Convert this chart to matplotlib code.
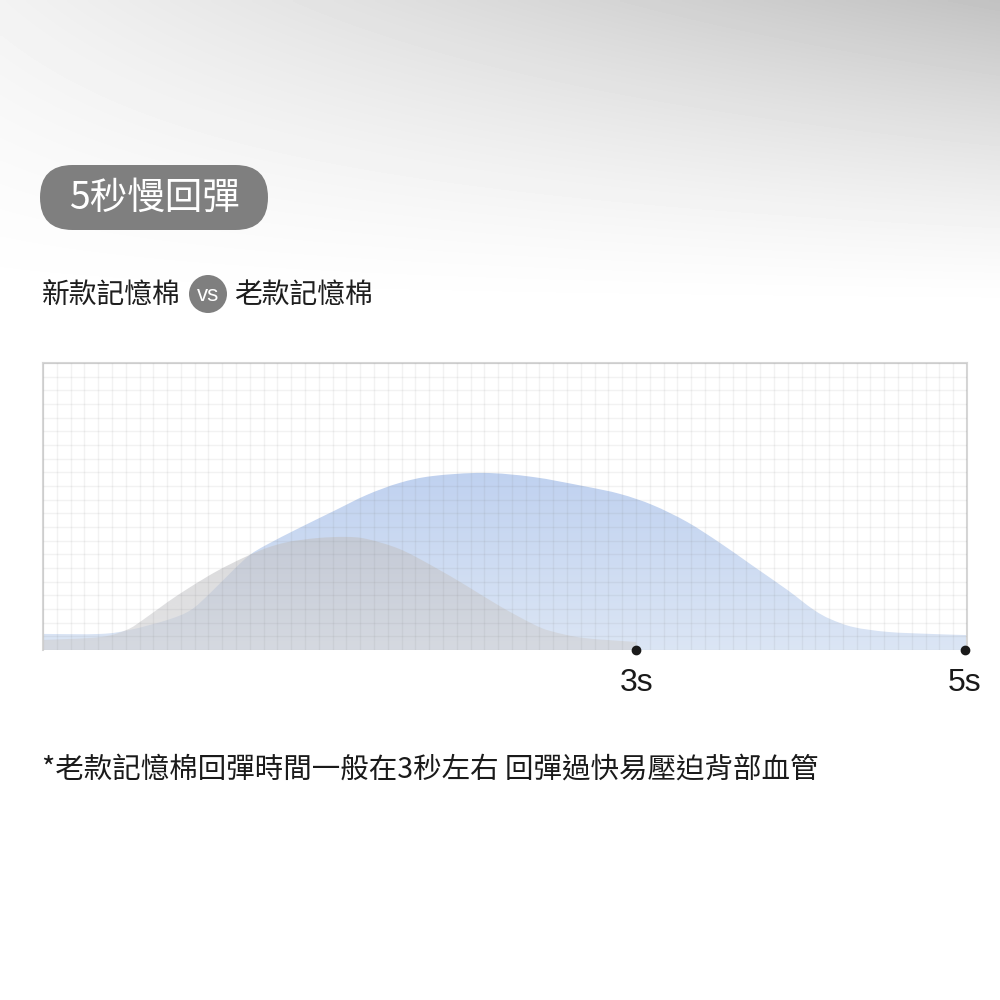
import numpy as np
import matplotlib.pyplot as plt
from matplotlib.patches import FancyBboxPatch, Circle, PathPatch
from matplotlib.path import Path

CJK = ['Noto Sans CJK TC', 'DejaVu Sans']

# new foam (blue): time in seconds, height in % of the grid box
new_t = [-0.61, -0.26, -0.08, 0.15, 0.29, 0.41, 0.55, 0.65, 0.75, 0.95, 1.16,
         1.36, 1.56, 1.76, 2.07, 2.37, 2.68, 2.90, 3.10, 3.31, 3.51, 3.71,
         3.92, 4.00, 4.09, 4.18, 4.32, 4.53, 4.79, 5.01]
new_h = [5.6, 5.6, 7.0, 10.5, 13.9, 19.9, 27.9, 33.1, 36.6, 42.5, 48.4,
         54.0, 58.2, 60.6, 61.7, 60.3, 57.1, 54.4, 50.5, 44.6, 37.3, 29.3,
         20.9, 17.4, 13.6, 10.8, 8.0, 6.3, 5.6, 5.2]

# old foam (grey)
old_t = [-0.61, -0.26, -0.10, 0.0, 0.15, 0.29, 0.45, 0.61, 0.75, 0.88, 1.06,
         1.23, 1.36, 1.56, 1.76, 1.97, 2.17, 2.37, 2.48, 2.68, 3.0]
old_h = [3.5, 4.5, 7.0, 10.5, 16.7, 22.0, 27.5, 32.1, 35.5, 37.6, 39.0,
         39.4, 38.7, 35.2, 29.3, 22.3, 15.3, 9.1, 6.6, 4.2, 2.8]

mark_t = [3, 5]
mark_labels = ['3s', '5s']

title = '5秒慢回彈'
left_label = '新款記憶棉'
right_label = '老款記憶棉'
vs_label = 'vs'
note = '*老款記憶棉回彈時間一般在3秒左右 回彈過快易壓迫背部血管'


def smooth_area_path(t, h):
    # Catmull-Rom through the read points, closed down to the baseline
    p = np.column_stack([t, h]).astype(float)
    verts = [p[0]]
    codes = [Path.MOVETO]
    n = len(p)
    for i in range(n - 1):
        p0 = p[max(i - 1, 0)]
        p1 = p[i]
        p2 = p[i + 1]
        p3 = p[min(i + 2, n - 1)]
        verts += [p1 + (p2 - p0) / 6, p2 - (p3 - p1) / 6, p2]
        codes += [Path.CURVE4] * 3
    verts += [(t[-1], 0), (t[0], 0), (t[0], h[0])]
    codes += [Path.LINETO, Path.LINETO, Path.CLOSEPOLY]
    return Path(verts, codes)


def gradient_fill(ax, t, h, top_rgb, bottom_rgb, alpha, z):
    patch = PathPatch(smooth_area_path(t, h), facecolor='none', edgecolor='none')
    ax.add_patch(patch)
    ramp = np.linspace(0, 1, 256)[:, None]
    top = np.array(top_rgb)
    bot = np.array(bottom_rgb)
    rgb = bot + (top - bot) * ramp
    rgba = np.dstack([rgb[:, 0:1], rgb[:, 1:2], rgb[:, 2:3], np.full((256, 1), alpha)])
    im = ax.imshow(rgba, extent=[min(t), max(t), 0, max(h) + 1], origin='lower',
                   aspect='auto', zorder=z, interpolation='bilinear')
    im.set_clip_path(patch)


fig = plt.figure(figsize=(10, 10), dpi=100)
fig.patch.set_facecolor('white')

# background: grey wash at the top, darker to the right
bg = fig.add_axes([0, 0, 1, 1], zorder=-5)
xs = np.linspace(0, 1, 300)[None, :]
ys = np.linspace(0, 1000, 300)[:, None]
dark = (0.05 + 0.19 * xs) * np.clip(1 - ys / 310, 0, 1) ** 1.3
bg.imshow(1 - dark, cmap='gray', vmin=0, vmax=1, extent=[0, 1, 0, 1],
          aspect='auto', origin='upper', interpolation='bilinear')
bg.set_xlim(0, 1)
bg.set_ylim(0, 1)
bg.axis('off')

# title pill
pill = FancyBboxPatch((0.040, 1 - 0.230), 0.228, 0.065,
                      boxstyle='round,pad=0,rounding_size=0.0325',
                      transform=fig.transFigure, facecolor='#7f7f7f', edgecolor='none')
fig.add_artist(pill)
fig.text(0.154, 1 - 0.198, title, color='white', fontsize=27, family=CJK,
         ha='center', va='center')

# subtitle
fig.text(0.042, 1 - 0.295, left_label, color='#1e1e1e', fontsize=20, family=CJK,
         ha='left', va='center')
fig.add_artist(Circle((0.208, 1 - 0.294), 0.019, transform=fig.transFigure,
                      facecolor='#7f7f7f', edgecolor='none'))
fig.text(0.208, 1 - 0.2955, vs_label, color='white', fontsize=16,
         family='Liberation Sans', ha='center', va='center')
fig.text(0.234, 1 - 0.295, right_label, color='#1e1e1e', fontsize=20, family=CJK,
         ha='left', va='center')

# chart
ax = fig.add_axes([0.043, 0.350, 0.924, 0.287])
ax.set_facecolor('white')

gradient_fill(ax, new_t, new_h, (0.75, 0.82, 0.94), (0.86, 0.90, 0.96), 1.0, 1)
gradient_fill(ax, old_t, old_h, (0.76, 0.76, 0.77), (0.82, 0.82, 0.83), 0.6, 2)

grid_col = (0.5, 0.5, 0.5, 0.10)
ax.vlines(np.linspace(0, 1, 68), 0, 1, transform=ax.transAxes,
          colors=grid_col, lw=1, zorder=3)
ax.hlines(np.linspace(0, 1, 22), 0, 1, transform=ax.transAxes,
          colors=grid_col, lw=1, zorder=3)

ax.plot(mark_t, [0] * len(mark_t), 'o', color='#1a1a1a', ms=6, clip_on=False, zorder=6)
for t, lab in zip(mark_t, mark_labels):
    ax.text(t, -11.5, lab, ha='center', va='center', fontsize=23,
            family='Liberation Sans', color='#1a1a1a')

ax.set_xlim(-0.608, 5.012)
ax.set_ylim(0, 100)
ax.set_xticks([])
ax.set_yticks([])
for side in ['top', 'left', 'right']:
    ax.spines[side].set_color('#d6d6d6')
    ax.spines[side].set_linewidth(1.5)
ax.spines['bottom'].set_visible(False)

# footnote
fig.text(0.042, 1 - 0.770, note, color='#1a1a1a', fontsize=20.5, family=CJK,
         ha='left', va='center')

fig.savefig('out.png', dpi=100)
